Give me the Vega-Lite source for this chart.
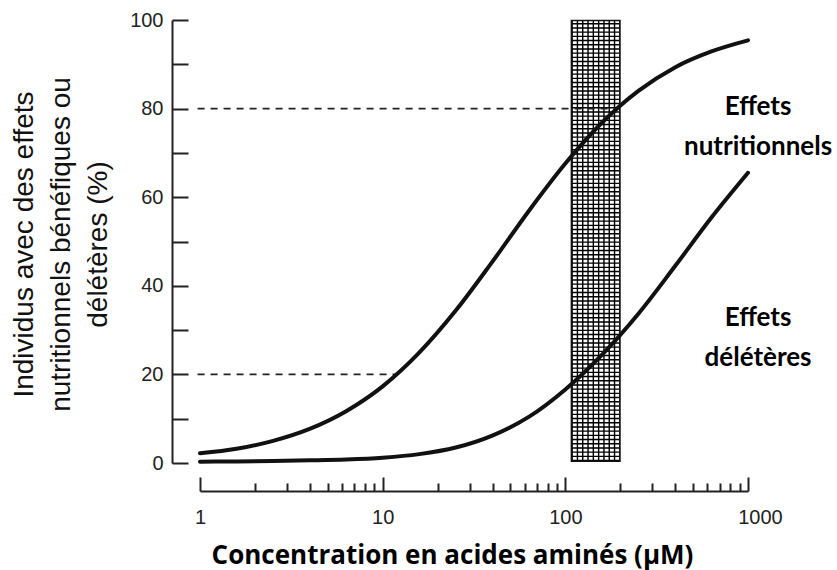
{
  "$schema": "https://vega.github.io/schema/vega-lite/v6.json",
  "width": 548,
  "height": 443,
  "autosize": {"type": "none"},
  "padding": {"left": 200, "top": 20, "right": 89, "bottom": 107},
  "background": "white",
  "config": {"view": {"stroke": null}, "font": "Liberation Sans"},
  "datasets": {
    "curves": [
      {"series": "nutritionnels", "x": 1, "y": 2.2},
      {"series": "nutritionnels", "x": 1.585, "y": 3.2},
      {"series": "nutritionnels", "x": 2.512, "y": 5.0},
      {"series": "nutritionnels", "x": 3.981, "y": 7.7},
      {"series": "nutritionnels", "x": 6.31, "y": 11.7},
      {"series": "nutritionnels", "x": 10, "y": 17.3},
      {"series": "nutritionnels", "x": 15.85, "y": 24.9},
      {"series": "nutritionnels", "x": 25.12, "y": 34.4},
      {"series": "nutritionnels", "x": 39.81, "y": 45.4},
      {"series": "nutritionnels", "x": 63.1, "y": 56.9},
      {"series": "nutritionnels", "x": 100, "y": 67.6},
      {"series": "nutritionnels", "x": 158.5, "y": 76.8},
      {"series": "nutritionnels", "x": 251.2, "y": 84.0},
      {"series": "nutritionnels", "x": 398.1, "y": 89.3},
      {"series": "nutritionnels", "x": 631, "y": 92.9},
      {"series": "nutritionnels", "x": 1000, "y": 95.4},
      {"series": "deleteres", "x": 1, "y": 0.3},
      {"series": "deleteres", "x": 1.585, "y": 0.35},
      {"series": "deleteres", "x": 2.512, "y": 0.45},
      {"series": "deleteres", "x": 3.981, "y": 0.6},
      {"series": "deleteres", "x": 6.31, "y": 0.8},
      {"series": "deleteres", "x": 10, "y": 1.2},
      {"series": "deleteres", "x": 15.85, "y": 2.0},
      {"series": "deleteres", "x": 25.12, "y": 3.5},
      {"series": "deleteres", "x": 39.81, "y": 6.2},
      {"series": "deleteres", "x": 63.1, "y": 10.4},
      {"series": "deleteres", "x": 100, "y": 16.6},
      {"series": "deleteres", "x": 158.5, "y": 24.4},
      {"series": "deleteres", "x": 251.2, "y": 33.7},
      {"series": "deleteres", "x": 398.1, "y": 44.4},
      {"series": "deleteres", "x": 631, "y": 55.4},
      {"series": "deleteres", "x": 1000, "y": 65.5}
    ],
    "band": [{"lo": 108, "hi": 199, "mid": 146.6, "ylo": 0.4, "yhi": 99.9, "ymid": 50.15}],
    "guides": [
      {"y": 80, "x1": 0.97, "x2": 199},
      {"y": 20, "x1": 0.97, "x2": 11.8}
    ],
    "labels": [
      {"x": 1135, "y": 78.6, "label": "Effets\nnutritionnels"},
      {"x": 1135, "y": 30.9, "label": "Effets\ndélétères"}
    ]
  },
  "layer": [
    {
      "data": {"name": "band"},
      "mark": {"type": "rule", "color": "#000", "strokeWidth": 48, "strokeDash": [1.4, 2.8], "strokeCap": "butt"},
      "encoding": {
        "x": {"field": "mid", "type": "quantitative", "scale": {"type": "log", "domain": [1, 1000], "nice": false}},
        "y": {"field": "ylo", "type": "quantitative", "scale": {"domain": [0, 100], "nice": false}},
        "y2": {"field": "yhi"}
      }
    },
    {
      "data": {"name": "band"},
      "mark": {"type": "rule", "color": "#000", "strokeWidth": 441, "strokeDash": [1.4, 3.9], "strokeCap": "butt"},
      "encoding": {
        "x": {"field": "lo", "type": "quantitative", "scale": {"type": "log", "domain": [1, 1000], "nice": false}},
        "x2": {"field": "hi"},
        "y": {"field": "ymid", "type": "quantitative", "scale": {"domain": [0, 100], "nice": false}}
      }
    },
    {
      "data": {"name": "band"},
      "mark": {"type": "rect", "fill": "transparent", "stroke": "#111", "strokeWidth": 1.6},
      "encoding": {
        "x": {"field": "lo", "type": "quantitative", "scale": {"type": "log", "domain": [1, 1000], "nice": false}},
        "x2": {"field": "hi"},
        "y": {"field": "ylo", "type": "quantitative", "scale": {"domain": [0, 100], "nice": false}},
        "y2": {"field": "yhi"}
      }
    },
    {
      "data": {"name": "guides"},
      "mark": {"type": "rule", "color": "#222", "strokeWidth": 1.8, "strokeDash": [7, 6]},
      "encoding": {
        "x": {"field": "x1", "type": "quantitative", "scale": {"type": "log", "domain": [1, 1000], "nice": false}},
        "x2": {"field": "x2"},
        "y": {"field": "y", "type": "quantitative", "scale": {"domain": [0, 100], "nice": false}}
      }
    },
    {
      "data": {"name": "curves"},
      "mark": {"type": "line", "interpolate": "monotone", "color": "#111", "strokeWidth": 4, "strokeCap": "round"},
      "encoding": {
        "detail": {"field": "series", "type": "nominal"},
        "x": {
          "field": "x", "type": "quantitative",
          "scale": {"type": "log", "domain": [1, 1000], "nice": false},
          "axis": {
            "values": [1, 2, 3, 4, 5, 6, 7, 8, 9, 10, 20, 30, 40, 50, 60, 70, 80, 90, 100, 200, 300, 400, 500, 600, 700, 800, 900, 1000],
            "format": "d",
            "labelExpr": "(datum.value == 1 || datum.value == 10 || datum.value == 100 || datum.value == 1000) ? datum.label : ''",
            "tickSize": {"condition": {"test": "datum.value == 1 || datum.value == 10 || datum.value == 100 || datum.value == 1000", "value": -14}, "value": -8},
            "labelOffset": {"condition": {"test": "datum.value == 1000", "value": 12}, "value": 0},
            "labelPadding": 30,
            "labelFlush": false,
            "labelOverlap": false,
            "labelFont": "Liberation Sans",
            "labelFontSize": 20,
            "labelColor": "#222",
            "offset": 28,
            "grid": false,
            "domainColor": "#222",
            "domainWidth": 2,
            "tickColor": "#222",
            "tickWidth": 2,
            "title": "Concentration en acides aminés (µM)",
            "titleFont": "Open Sans",
            "titleFontSize": 26,
            "titleFontWeight": "bold",
            "titleColor": "#000",
            "titleX": 252,
            "titleY": 72,
            "titleAlign": "center",
            "titleBaseline": "alphabetic"
          }
        },
        "y": {
          "field": "y", "type": "quantitative",
          "scale": {"domain": [0, 100], "nice": false},
          "axis": {
            "values": [0, 10, 20, 30, 40, 50, 60, 70, 80, 90, 100],
            "labelExpr": "datum.value % 20 == 0 ? datum.label : ''",
            "tickSize": -16,
            "labelPadding": 25,
            "labelFlush": false,
            "labelOverlap": false,
            "labelFont": "Liberation Sans",
            "labelFontSize": 20,
            "labelColor": "#222",
            "offset": 28,
            "grid": false,
            "domainColor": "#222",
            "domainWidth": 2,
            "tickColor": "#222",
            "tickWidth": 2,
            "title": ["Individus avec des effets", "nutritionnels bénéfiques ou", "délétères (%)"],
            "titleFont": "Liberation Sans",
            "titleFontSize": 28,
            "titleFontWeight": "normal",
            "titleColor": "#111",
            "titleLineHeight": 37,
            "titleAngle": -90,
            "titleX": -140,
            "titleY": 224,
            "titleAlign": "center",
            "titleBaseline": "alphabetic"
          }
        }
      }
    },
    {
      "data": {"name": "labels"},
      "mark": {"type": "text", "font": "Lato", "fontSize": 26, "fontWeight": "bold", "color": "#000", "align": "center", "baseline": "alphabetic", "lineBreak": "\n", "lineHeight": 40},
      "encoding": {
        "x": {"field": "x", "type": "quantitative", "scale": {"type": "log", "domain": [1, 1000], "nice": false}},
        "y": {"field": "y", "type": "quantitative", "scale": {"domain": [0, 100], "nice": false}},
        "text": {"field": "label", "type": "nominal"}
      }
    }
  ]
}
